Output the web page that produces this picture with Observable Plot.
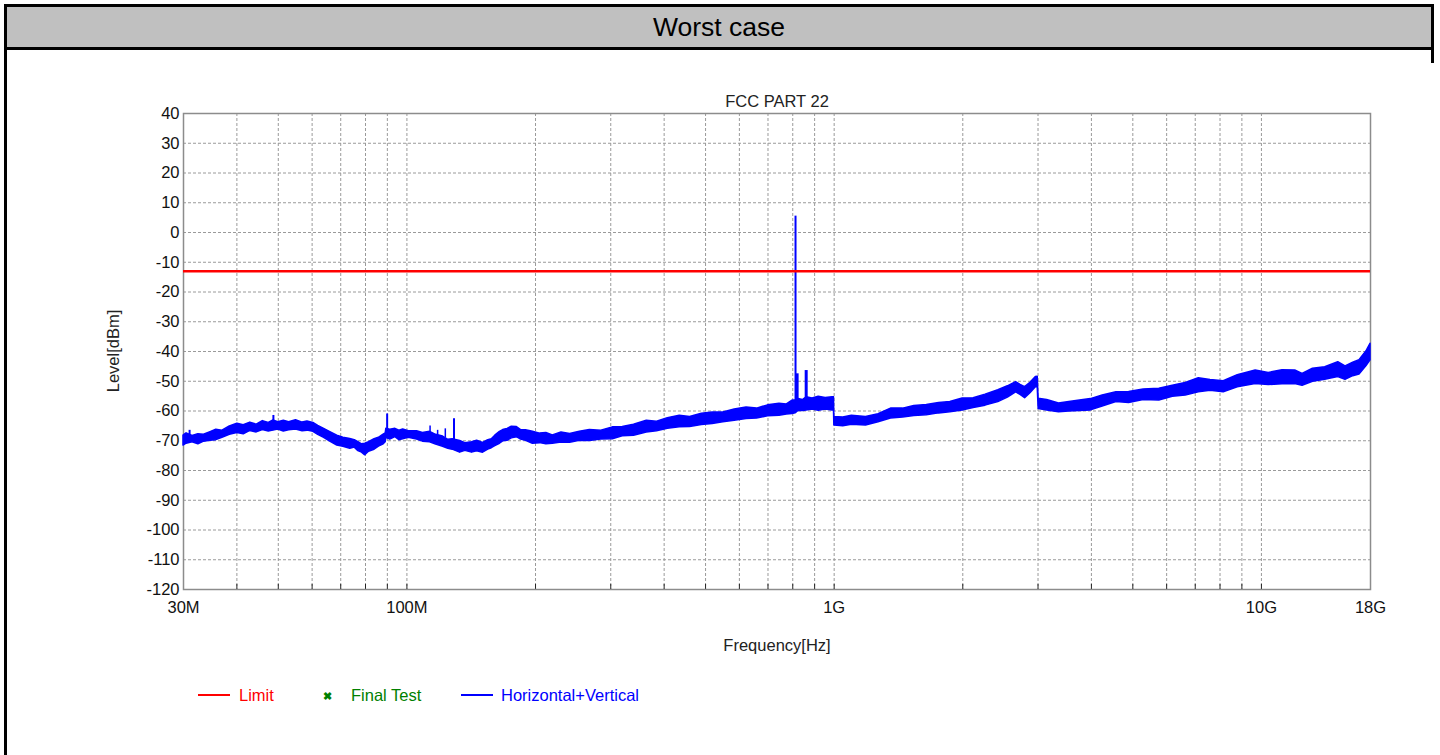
<!DOCTYPE html>
<html>
<head>
<meta charset="utf-8">
<script src="https://cdn.jsdelivr.net/npm/d3@7"></script>
<script src="https://cdn.jsdelivr.net/npm/@observablehq/plot@0.6"></script>
<style>
  html, body { margin:0; padding:0; background:#fff; }
  body { width:1440px; height:755px; position:relative; overflow:hidden; font-family:"Liberation Sans", Arial, sans-serif; }
  .abs { position:absolute; }
  #chart { position:absolute; left:0; top:0; }
  .ctr { transform:translate(-50%,-50%); white-space:nowrap; }
</style>
</head>
<body>
<div id="chart"></div>

<div class="abs" style="left:4px;top:4px;width:3px;height:751px;background:#000;"></div>
<div class="abs" style="left:4px;top:4px;width:1430px;height:46px;box-sizing:border-box;border:3px solid #000;background:#c0c0c0;"></div>
<div class="abs" style="left:1431px;top:48px;width:3px;height:15px;background:#000;"></div>
<div class="abs ctr" style="left:719px;top:27px;font-size:26.5px;color:#000;">Worst case</div>

<div class="abs ctr" style="left:777px;top:101px;font-size:16.5px;color:#222;">FCC PART 22</div>
<div class="abs ctr" style="left:777px;top:645px;font-size:16.5px;color:#222;">Frequency[Hz]</div>
<div class="abs ctr" style="left:113px;top:351px;font-size:16.5px;color:#222;transform:translate(-50%,-50%) rotate(-90deg);">Level[dBm]</div>

<div id="legend"></div>

<script>
// ---- data ----
// Frequency axis labels
const xTickHz = [30e6, 100e6, 1e9, 10e9, 18e9];
const xTickLabels = ["30M", "100M", "1G", "10G", "18G"];
// Minor/major grid frequencies (MHz)
const gridMHz = [40,50,60,70,80,90,100,200,300,400,500,600,700,800,900,1000,2000,3000,4000,5000,6000,7000,8000,9000,10000];
// Level axis ticks
const yTicks = [-120,-110,-100,-90,-80,-70,-60,-50,-40,-30,-20,-10,0,10,20,30,40];
// Limit (dBm)
const limitLevel = -13;

// Horizontal+Vertical trace envelope: frequency (MHz), lower and upper edge (dBm)
const traceMHz = [30, 30.5, 31.5, 32.5, 33.5, 34.7, 35.8, 37, 38.5, 40.1, 41.5, 43, 44.5, 46, 47.5, 48.7, 50, 51.5, 53, 55, 57, 58.5, 60.4, 62, 64, 66, 68.7, 71, 73.7, 75.5, 77, 78.5, 79.9, 81.5, 84, 86, 88, 89.2, 89.5, 91.4, 94, 96, 98, 101, 105.6, 109, 113.3, 117, 121.5, 125, 128, 133.2, 137, 142, 146, 150.7, 155, 158, 161, 165.1, 168, 172, 176, 180.9, 185, 190, 197.2, 205, 212, 219.5, 230, 241, 253.9, 268, 285, 303.3, 320, 340, 364.2, 385, 408, 435, 460, 490, 519.4, 550, 585, 623.7, 660, 700, 744.7, 775, 798.9, 812, 825, 845, 862, 890, 920, 955, 990.6, 999, 1001, 1050, 1100, 1187, 1270, 1358, 1450, 1540, 1647, 1760, 1870, 1998, 2120, 2260, 2422, 2550, 2665, 2730, 2798, 2880, 2965, 2995, 3010, 3150, 3359, 3550, 3760, 3989, 4250, 4577, 4900, 5300, 5768, 6200, 6650, 7134, 7600, 8160, 8800, 9694, 10400, 11200, 11997, 12479, 13200, 14100, 15127, 15731, 16400, 16963, 17600, 18000];
const traceLo  = [-71.6, -71, -70.5, -71.2, -70.3, -70, -69.8, -69, -68, -67.4, -67.8, -66.7, -67.2, -66.4, -66.9, -66.6, -66.2, -66.9, -66.5, -66.2, -66.8, -66.6, -67, -68, -69, -70.2, -71.6, -72, -72.7, -72.3, -73.5, -74, -74.9, -73.7, -73, -72, -71.3, -70.5, -69, -69.6, -68.8, -69.8, -69.5, -69, -69.6, -70.3, -70.5, -71.3, -72, -72.7, -73, -74, -73.4, -74, -73.5, -74, -73, -72.5, -71.8, -71, -70.2, -70, -69.2, -68.8, -69.6, -70, -71, -70.8, -71.2, -71, -70.6, -70.7, -70, -70.1, -69.6, -69.5, -68.5, -68.3, -67.2, -66.8, -66, -65.5, -65.4, -64.7, -64.4, -63.8, -63.3, -62.7, -62.5, -61.8, -61.6, -61.2, -61, -60.8, -60, -60, -59.8, -59.5, -59.9, -59.5, -59.8, -59.8, -64.9, -65.1, -64.6, -64.9, -63.8, -62.5, -62.2, -61.7, -61.4, -60.8, -60.4, -59.8, -59, -58.2, -57, -55.5, -53.7, -54.6, -55.7, -54, -52, -52, -59.3, -59.8, -60.4, -60.2, -60, -59.8, -58.5, -57, -57.3, -56.3, -56.5, -55.2, -54.8, -53.7, -53.2, -53.7, -52, -50.9, -51.3, -51, -50.9, -51.5, -50.2, -49.5, -48.6, -49.5, -48.3, -47.7, -45, -43];
const traceHi  = [-68.3, -67.5, -68.4, -67.8, -68, -67.1, -66.3, -66.6, -65.2, -64.3, -64.8, -63.9, -64.6, -63.4, -64, -63.2, -63.8, -63.3, -63.8, -63.1, -63.9, -63.5, -64, -65, -66, -67, -68.3, -69, -69.4, -69.8, -70.5, -71.2, -71, -70.5, -69.5, -69, -68, -67.5, -66, -66.3, -66, -66.6, -66.2, -66.8, -66.8, -67.4, -67, -68, -68.6, -69.7, -69.5, -70.1, -70.8, -70.5, -70, -70.7, -69.8, -69.5, -68.3, -67, -66.4, -66, -65.3, -65.4, -66.4, -66.5, -67, -67.6, -67.4, -68.2, -67.2, -67.7, -67, -66.4, -66.6, -65.5, -65.4, -64.6, -63.3, -63.6, -62.4, -61.6, -62, -60.9, -60.5, -60.5, -59.5, -58.8, -59.2, -58.1, -57.6, -57.8, -56.5, -56.5, -56, -56.3, -55.4, -55.8, -55.2, -55.6, -55.4, -55.4, -62, -62.2, -61.6, -62, -61.1, -59.2, -59.2, -58.3, -58, -57.3, -57, -55.8, -55.7, -54.5, -53, -51.7, -50.3, -51.2, -52, -50.5, -48.6, -48.5, -55.9, -56.3, -57.5, -57, -56.5, -56, -54.8, -53.7, -53.6, -52.8, -52.5, -51.5, -50.6, -49, -49.6, -50, -48, -46.4, -47.2, -46.3, -46.4, -47.5, -45.8, -45.3, -43.6, -45, -43.8, -42.9, -40, -37.4];

// Narrow spurs on the trace: frequency (MHz), base and peak (dBm)
const spurMHz  = [31, 48.7, 89.9, 113.3, 118, 123, 128.9, 812, 819, 860];
const spurBase = [-69, -65, -68, -68, -69, -69, -70, -58, -58, -57];
const spurTop  = [-66.5, -61.5, -61, -65, -66.5, -66, -62.6, 5.5, -47.5, -46.4];
const spurWide = [2, 2, 2, 1.5, 1.5, 1.5, 2, 2, 3, 3];

// ---- build tables ----
const band = traceMHz.map((f, i) => ({f: f * 1e6, lo: traceLo[i], hi: traceHi[i]}));
const spurs = spurMHz.map((f, i) => ({f: f * 1e6, base: spurBase[i], top: spurTop[i], w: spurWide[i]}));
const gridHz = gridMHz.map(f => f * 1e6);
const labelMap = new Map(xTickHz.map((d, i) => [d, xTickLabels[i]]));

const grid = {stroke: "#9a9a9a", strokeDasharray: "3,2", strokeWidth: 1};

const chart = Plot.plot({
  width: 1440,
  height: 755,
  marginTop: 113,
  marginBottom: 166,
  marginLeft: 183,
  marginRight: 70,
  style: {fontFamily: "'Liberation Sans', Arial, sans-serif", fontSize: "16.5px", color: "#111", background: "transparent", overflow: "visible"},
  x: {type: "log", domain: [30e6, 18e9], ticks: xTickHz, tickFormat: d => labelMap.get(d), tickSize: 0, tickPadding: 12, label: null},
  y: {domain: [-120, 40], ticks: yTicks, tickFormat: d => String(d), tickSize: 0, tickPadding: 4, label: null},
  marks: [
    Plot.ruleY(yTicks.filter(d => d > -120 && d < 40), grid),
    Plot.ruleX(gridHz, grid),
    Plot.ruleX(gridHz, {y1: -120, y2: -118.3, stroke: "#222", strokeWidth: 1}),
    Plot.frame({stroke: "#8c8c8c", strokeWidth: 1.5}),
    Plot.areaY(band, {x: "f", y1: "lo", y2: "hi", fill: "#0000ff", stroke: "#0000ff", strokeWidth: 1.5, curve: "linear"}),
    Plot.ruleX(spurs, {x: "f", y1: "base", y2: "top", stroke: "#0000ff", strokeWidth: "w"}),
    Plot.ruleY([limitLevel], {stroke: "#ff0000", strokeWidth: 2.5})
  ]
});
document.getElementById("chart").appendChild(chart);

// ---- legend ----
const legendItems = [
  {label: "Limit", color: "#ff0000", kind: "line", x: 198, tx: 239},
  {label: "Final Test", color: "#008000", kind: "mark", x: 321, tx: 351},
  {label: "Horizontal+Vertical", color: "#0000ff", kind: "line", x: 461, tx: 501}
];
const lg = document.getElementById("legend");
legendItems.forEach(it => {
  if (it.kind === "line") {
    const l = document.createElement("div");
    l.className = "abs";
    l.style.cssText = `left:${it.x}px;top:694px;width:32px;height:2px;background:${it.color};`;
    lg.appendChild(l);
  } else {
    const m = document.createElement("div");
    m.className = "abs ctr";
    m.style.cssText = `left:${it.x + 6}px;top:696px;font-size:11px;font-weight:bold;color:${it.color};`;
    m.textContent = "\u2716";
    lg.appendChild(m);
  }
  const t = document.createElement("div");
  t.className = "abs";
  t.style.cssText = `left:${it.tx}px;top:695px;transform:translateY(-50%);font-size:16.5px;color:${it.color};white-space:nowrap;`;
  t.textContent = it.label;
  lg.appendChild(t);
});
</script>
</body>
</html>
